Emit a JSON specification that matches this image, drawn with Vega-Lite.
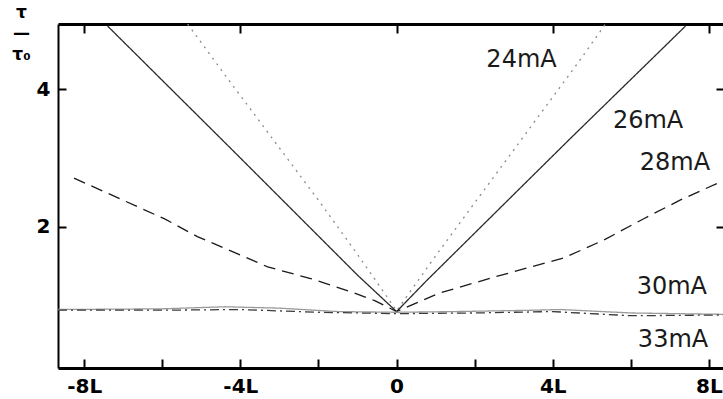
{
  "$schema": "https://vega.github.io/schema/vega-lite/v6.json",
  "width": 665,
  "height": 344,
  "autosize": {"type": "none"},
  "padding": {"left": 58, "top": 24, "right": 0, "bottom": 31},
  "background": "white",
  "config": {
    "view": {"stroke": null},
    "font": "DejaVu Sans",
    "axis": {"grid": false, "domainColor": "#000", "tickColor": "#000", "labelColor": "#000", "titleColor": "#000", "labelFont": "DejaVu Sans", "labelFontWeight": "bold"}
  },
  "datasets": {
    "curves": [
      {"series": "24mA", "x": -5.35, "y": 4.95},
      {"series": "24mA", "x": -4.33, "y": 4.16},
      {"series": "24mA", "x": -3.33, "y": 3.40},
      {"series": "24mA", "x": -1.95, "y": 2.35},
      {"series": "24mA", "x": -1.0, "y": 1.6},
      {"series": "24mA", "x": -0.36, "y": 1.08},
      {"series": "24mA", "x": 0, "y": 0.78},
      {"series": "24mA", "x": 0.4, "y": 1.1},
      {"series": "24mA", "x": 1.0, "y": 1.58},
      {"series": "24mA", "x": 2.0, "y": 2.35},
      {"series": "24mA", "x": 3.3, "y": 3.35},
      {"series": "24mA", "x": 4.69, "y": 4.42},
      {"series": "24mA", "x": 5.35, "y": 4.95},
      {"series": "26mA", "x": -7.4, "y": 4.92},
      {"series": "26mA", "x": -4.26, "y": 3.15},
      {"series": "26mA", "x": -1.0, "y": 1.3},
      {"series": "26mA", "x": 0, "y": 0.77},
      {"series": "26mA", "x": 0.77, "y": 1.22},
      {"series": "26mA", "x": 4.44, "y": 3.28},
      {"series": "26mA", "x": 7.4, "y": 4.92},
      {"series": "28mA", "x": -8.26, "y": 2.71},
      {"series": "28mA", "x": -5.95, "y": 2.12},
      {"series": "28mA", "x": -5.1, "y": 1.86},
      {"series": "28mA", "x": -3.3, "y": 1.42},
      {"series": "28mA", "x": -2.2, "y": 1.25},
      {"series": "28mA", "x": -1.18, "y": 1.06},
      {"series": "28mA", "x": -0.56, "y": 0.93},
      {"series": "28mA", "x": 0, "y": 0.77},
      {"series": "28mA", "x": 1.1, "y": 1.04},
      {"series": "28mA", "x": 2.56, "y": 1.28},
      {"series": "28mA", "x": 4.28, "y": 1.55},
      {"series": "28mA", "x": 5.31, "y": 1.81},
      {"series": "28mA", "x": 6.33, "y": 2.12},
      {"series": "28mA", "x": 7.26, "y": 2.39},
      {"series": "28mA", "x": 8.2, "y": 2.63},
      {"series": "28mA", "x": 8.36, "y": 2.67},
      {"series": "30mA", "x": -8.67, "y": 0.8},
      {"series": "30mA", "x": -6.0, "y": 0.81},
      {"series": "30mA", "x": -4.4, "y": 0.84},
      {"series": "30mA", "x": -3.0, "y": 0.82},
      {"series": "30mA", "x": -1.5, "y": 0.77},
      {"series": "30mA", "x": 0, "y": 0.76},
      {"series": "30mA", "x": 1.5, "y": 0.77},
      {"series": "30mA", "x": 3.5, "y": 0.79},
      {"series": "30mA", "x": 4.2, "y": 0.8},
      {"series": "30mA", "x": 6.0, "y": 0.75},
      {"series": "30mA", "x": 8.36, "y": 0.73},
      {"series": "33mA", "x": -8.67, "y": 0.79},
      {"series": "33mA", "x": -6.0, "y": 0.79},
      {"series": "33mA", "x": -4.0, "y": 0.8},
      {"series": "33mA", "x": -2.0, "y": 0.76},
      {"series": "33mA", "x": 0, "y": 0.74},
      {"series": "33mA", "x": 2.0, "y": 0.75},
      {"series": "33mA", "x": 4.0, "y": 0.77},
      {"series": "33mA", "x": 6.0, "y": 0.71},
      {"series": "33mA", "x": 8.36, "y": 0.72}
    ],
    "labels": [
      {"label": "24mA", "x": 2.3, "y": 4.42},
      {"label": "26mA", "x": 5.54, "y": 3.54},
      {"label": "28mA", "x": 6.23, "y": 2.93},
      {"label": "30mA", "x": 6.15, "y": 1.13},
      {"label": "33mA", "x": 6.18, "y": 0.36}
    ]
  },
  "resolve": {"axis": {"x": "independent", "y": "independent"}},
  "layer": [
    {
      "data": {"name": "curves"},
      "mark": {"type": "line", "strokeWidth": 1.3, "clip": true},
      "encoding": {
        "x": {"field": "x", "type": "quantitative",
              "scale": {"domain": [-8.67, 8.36], "nice": false, "zero": false},
              "axis": {"orient": "bottom", "title": null, "values": [-8, -6, -4, -2, 0, 2, 4, 6, 8],
                       "labelExpr": "datum.value % 4 === 0 ? (datum.value === 0 ? '0' : datum.value + 'L') : ''",
                       "tickSize": -9, "tickWidth": 2, "domainWidth": 3, "labelPadding": 17, "labelFontSize": 20, "labelFlush": false}},
        "y": {"field": "y", "type": "quantitative",
              "scale": {"domain": [-0.05, 4.95], "nice": false, "zero": false},
              "axis": {"orient": "left", "values": [2, 4], "tickSize": -8, "tickWidth": 2, "domainWidth": 2,
                       "labelPadding": 16, "labelFontSize": 20,
                       "title": ["τ", "—", "τ₀"], "titleAngle": 0, "titleFontSize": 17, "titleFontWeight": "bold",
                       "titleLineHeight": 21, "titleAlign": "center", "titleBaseline": "top", "titleX": -37, "titleY": -20}},
        "color": {"field": "series", "type": "nominal", "legend": null,
                  "scale": {"domain": ["24mA", "26mA", "28mA", "30mA", "33mA"], "range": ["#8a8a8a", "#2a2a2a", "#1a1a1a", "#9a9a9a", "#3a3a3a"]}},
        "strokeDash": {"field": "series", "type": "nominal", "legend": null,
                  "scale": {"domain": ["24mA", "26mA", "28mA", "30mA", "33mA"], "range": [[2, 5], [1, 0], [12, 7], [1, 0], [9, 4, 2, 4]]}}
      }
    },
    {
      "data": {"name": "labels"},
      "mark": {"type": "text", "align": "left", "baseline": "middle", "fontSize": 24, "font": "DejaVu Sans", "color": "#1a1a1a"},
      "encoding": {
        "x": {"field": "x", "type": "quantitative",
              "axis": {"orient": "top", "title": null, "values": [-8, -4, 0, 4, 8], "labels": false,
                       "tickSize": -9, "tickWidth": 2, "domainWidth": 3}},
        "y": {"field": "y", "type": "quantitative",
              "axis": {"orient": "right", "title": null, "values": [2, 4], "labels": false,
                       "tickSize": -7, "tickWidth": 2, "domain": false}},
        "text": {"field": "label"}
      }
    }
  ]
}
